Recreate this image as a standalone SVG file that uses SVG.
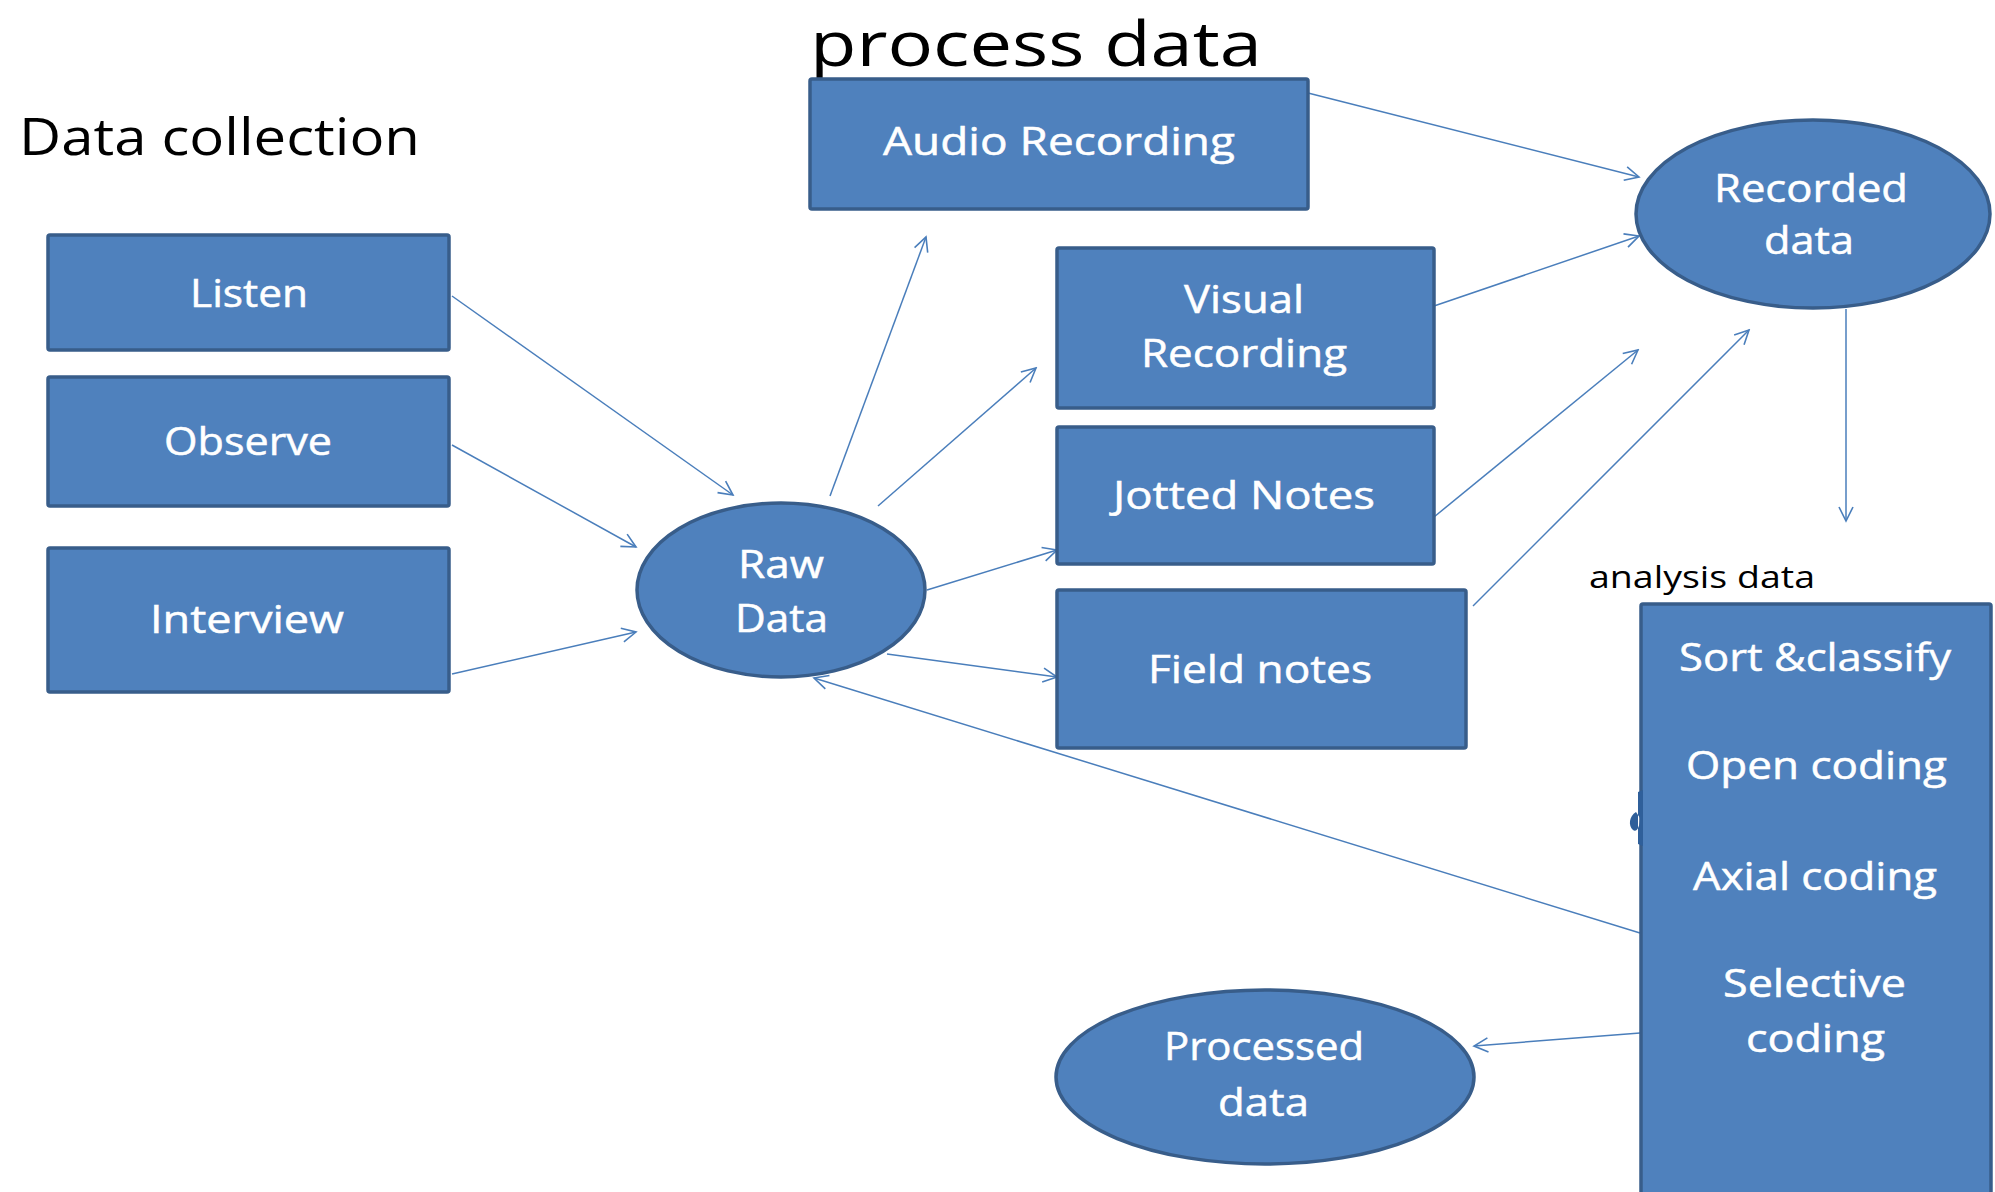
<svg xmlns="http://www.w3.org/2000/svg" width="1995" height="1192" viewBox="0 0 1995 1192">
<defs>
<style>
.box{fill:#4F81BD;stroke:#385D8A;stroke-width:3.5}
.lbl{font-family:"Open Sans","Liberation Sans",sans-serif;font-size:38px;fill:#FFFFFF;stroke:#FFFFFF;stroke-width:0.5}
.head{font-family:"Open Sans","Liberation Sans",sans-serif;fill:#000000}
.conn{fill:none;stroke:#4A7EBB;stroke-width:1.5;marker-end:url(#arr)}
</style>
<marker id="arr" viewBox="-16 -9 18 18" refX="0" refY="0" markerWidth="18" markerHeight="18" markerUnits="userSpaceOnUse" orient="auto">
<path d="M-14,-7 L0,0 L-14,7" fill="none" stroke="#4A7EBB" stroke-width="1.6"/>
</marker>
</defs>
<rect width="1995" height="1192" fill="#FFFFFF"/>

<g id="titles">
<text class="head" x="810" y="66" font-size="63" textLength="452" lengthAdjust="spacingAndGlyphs">process data</text>
<text class="head" x="19" y="155" font-size="52" textLength="401" lengthAdjust="spacingAndGlyphs">Data collection</text>
<text class="head" x="1589" y="588" font-size="31" textLength="226" lengthAdjust="spacingAndGlyphs">analysis data</text>
</g>

<g id="connectors">
<line class="conn" x1="452" y1="296" x2="733" y2="495"/>
<line class="conn" x1="452" y1="445" x2="636" y2="547"/>
<line class="conn" x1="452" y1="674" x2="636" y2="632"/>
<line class="conn" x1="830" y1="496" x2="926" y2="237"/>
<line class="conn" x1="878" y1="506" x2="1036" y2="368"/>
<line class="conn" x1="927" y1="590" x2="1057" y2="550"/>
<line class="conn" x1="887" y1="654" x2="1057" y2="677"/>
<line class="conn" x1="1640" y1="933" x2="814" y2="678"/>
<line class="conn" x1="1308" y1="93" x2="1639" y2="177"/>
<line class="conn" x1="1434" y1="306" x2="1639" y2="236"/>
<line class="conn" x1="1434" y1="517" x2="1638" y2="350"/>
<line class="conn" x1="1473" y1="606" x2="1749" y2="330"/>
<line class="conn" x1="1846" y1="309" x2="1846" y2="521"/>
<line class="conn" x1="1640" y1="1033" x2="1474" y2="1046"/>
</g>

<g id="listen">
<rect class="box" x="48" y="235" width="401" height="115" rx="2"/>
<text class="lbl" x="190" y="307" textLength="118" lengthAdjust="spacingAndGlyphs">Listen</text>
</g>
<g id="observe">
<rect class="box" x="48" y="377" width="401" height="129" rx="2"/>
<text class="lbl" x="164" y="455" textLength="168" lengthAdjust="spacingAndGlyphs">Observe</text>
</g>
<g id="interview">
<rect class="box" x="48" y="548" width="401" height="144" rx="2"/>
<text class="lbl" x="150" y="633" textLength="194" lengthAdjust="spacingAndGlyphs">Interview</text>
</g>
<g id="raw-data">
<ellipse class="box" cx="781" cy="590" rx="144" ry="87"/>
<text class="lbl" x="738" y="578" textLength="86" lengthAdjust="spacingAndGlyphs">Raw</text>
<text class="lbl" x="735" y="632" textLength="93" lengthAdjust="spacingAndGlyphs">Data</text>
</g>
<g id="audio-recording">
<rect class="box" x="810" y="79" width="498" height="130" rx="2"/>
<text class="lbl" x="883" y="155" textLength="352" lengthAdjust="spacingAndGlyphs">Audio  Recording</text>
</g>
<g id="visual-recording">
<rect class="box" x="1057" y="248" width="377" height="160" rx="2"/>
<text class="lbl" x="1184" y="313" textLength="120" lengthAdjust="spacingAndGlyphs">Visual</text>
<text class="lbl" x="1141" y="367" textLength="206" lengthAdjust="spacingAndGlyphs">Recording</text>
</g>
<g id="jotted-notes">
<rect class="box" x="1057" y="427" width="377" height="137" rx="2"/>
<text class="lbl" x="1113" y="509" textLength="262" lengthAdjust="spacingAndGlyphs">Jotted Notes</text>
</g>
<g id="field-notes">
<rect class="box" x="1057" y="590" width="409" height="158" rx="2"/>
<text class="lbl" x="1148" y="683" textLength="224" lengthAdjust="spacingAndGlyphs">Field notes</text>
</g>
<g id="recorded-data">
<ellipse class="box" cx="1813" cy="214" rx="177" ry="94"/>
<text class="lbl" x="1714" y="202" textLength="194" lengthAdjust="spacingAndGlyphs">Recorded</text>
<text class="lbl" x="1764" y="254" textLength="90" lengthAdjust="spacingAndGlyphs">data</text>
</g>
<g id="analysis">
<rect class="box" x="1641" y="604" width="350" height="600" rx="2"/>
<text class="lbl" x="1679" y="671" textLength="272" lengthAdjust="spacingAndGlyphs">Sort &amp;classify</text>
<text class="lbl" x="1686" y="779" textLength="261" lengthAdjust="spacingAndGlyphs">Open coding</text>
<text class="lbl" x="1693" y="890" textLength="244" lengthAdjust="spacingAndGlyphs">Axial coding</text>
<text class="lbl" x="1723" y="997" textLength="183" lengthAdjust="spacingAndGlyphs">Selective</text>
<text class="lbl" x="1746" y="1052" textLength="139" lengthAdjust="spacingAndGlyphs">coding</text>
<path d="M1638,792 L1643,790 L1643,846 L1638,844 Z M1636,812 C1629,816 1628,826 1633,830 C1637,833 1640,826 1640,818 Z" fill="#2F5F9A"/>
</g>
<g id="processed-data">
<ellipse class="box" cx="1265" cy="1077" rx="209" ry="87"/>
<text class="lbl" x="1164" y="1060" textLength="200" lengthAdjust="spacingAndGlyphs">Processed</text>
<text class="lbl" x="1218" y="1116" textLength="91" lengthAdjust="spacingAndGlyphs">data</text>
</g>
</svg>
